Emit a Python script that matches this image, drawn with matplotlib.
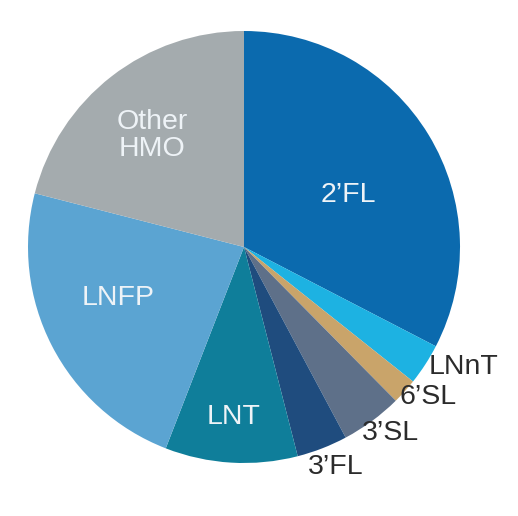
import numpy as np
import matplotlib
matplotlib.use("Agg")
import matplotlib.pyplot as plt

# HMO composition, clockwise from 12 o'clock (percent)
labels = ["2’FL", "LNnT", "6’SL", "3’SL", "3’FL", "LNT", "LNFP", "Other\nHMO"]
shares = [32.6, 3.1, 1.9, 4.6, 3.8, 9.9, 23.1, 21.0]
colors = ["#0b6aae", "#1db2e2", "#c9a46a", "#5e7089", "#1f4c7e",
          "#0f7e9a", "#5ba4d2", "#a4abae"]

# label placement: (radius fraction, angle nudge in deg, outside?)
label_pos = {
    "2’FL": (0.54, -5, False),
    "LNnT": (1.02, 0, True),
    "6’SL": (1.00, -2, True),
    "3’SL": (1.02, -4, True),
    "3’FL": (1.06, -5, True),
    "LNT": (0.79, 0, False),
    "LNFP": (0.63, -5, False),
    "Other\nHMO": (0.67, 1.5, False),
}

plt.rcParams["font.family"] = ["Liberation Sans", "DejaVu Sans"]

W, H = 518, 516
fig = plt.figure(figsize=(W / 100, H / 100), dpi=100)
ax = fig.add_axes([0, 0, 1, 1])

cx, cy, R = 244, H - 247, 216
wedges, _ = ax.pie(shares, colors=colors, startangle=90, counterclock=False,
                   center=(cx, cy), radius=R,
                   wedgeprops=dict(linewidth=0))

for w, lab in zip(wedges, labels):
    frac, nudge, outside = label_pos[lab]
    ang = np.deg2rad((w.theta1 + w.theta2) / 2 + nudge)
    x = cx + frac * R * np.cos(ang)
    y = cy + frac * R * np.sin(ang)
    if outside:
        ax.text(x, y, lab, ha="left", va="center", fontsize=20.5,
                color="#2b2b2b")
    else:
        ax.text(x, y, lab, ha="center", va="center", fontsize=20.5,
                color="#eef3f7", linespacing=1.05)

ax.set_xlim(0, W)
ax.set_ylim(0, H)
ax.set_aspect("auto")
ax.axis("off")
fig.savefig("out.png", dpi=100)
